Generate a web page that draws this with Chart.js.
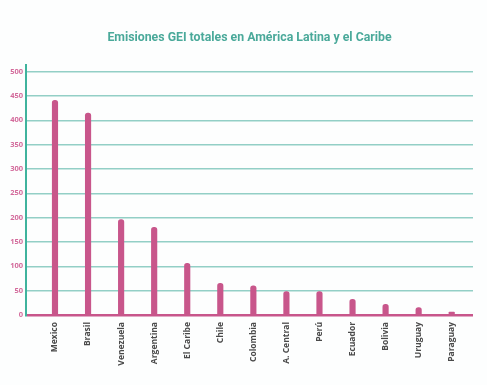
<!DOCTYPE html>
<html>
<head>
<meta charset="utf-8">
<script src="https://cdn.jsdelivr.net/npm/chart.js@4"></script>
<style>
  html, body { margin: 0; padding: 0; background: #fdfefe; }
  #wrap { width: 487px; height: 385px; }
</style>
</head>
<body>
<div id="wrap"><canvas id="c" width="487" height="385"></canvas></div>
<script>
const categories = ["Mexico", "Brasil", "Venezuela", "Argentina", "El Caribe", "Chile", "Colombia", "A. Central", "Perú", "Ecuador", "Bolivia", "Uruguay", "Paraguay"];
const emissions = [441, 415, 196, 180, 106, 65, 60, 48, 48, 32, 22, 15, 6];
const yTicks = [0, 50, 100, 150, 200, 250, 300, 350, 400, 450, 500];

const pink = "#c8568b";
const teal = "#3fb39d";
const gridTeal = "#93cfc6";

new Chart(document.getElementById("c"), {
  type: "bar",
  data: {
    datasets: [{
      data: emissions.map((v, i) => ({ x: i, y: v })),
      backgroundColor: pink,
      barThickness: 5.5,
      borderRadius: { topLeft: 3, topRight: 3, bottomLeft: 0, bottomRight: 0 },
      borderSkipped: "bottom"
    }]
  },
  options: {
    responsive: false,
    animation: false,
    layout: { padding: { top: 20, right: 14, bottom: 0, left: 0 } },
    plugins: {
      legend: { display: false },
      tooltip: { enabled: false },
      title: {
        display: true,
        fullSize: false,
        text: "Emisiones GEI totales en América Latina y el Caribe",
        color: "#4aa99a",
        font: { family: "Roboto", size: 12.3, weight: "bold" },
        padding: { top: 11, bottom: 19 }
      }
    },
    scales: {
      x: {
        type: "linear",
        offset: false,
        min: -0.877,
        max: 12.644,
        afterBuildTicks: s => { s.ticks = categories.map((c, i) => ({ value: i })); },
        afterFit: s => { s.height = 70; },
        grid: { display: false, drawTicks: false, offset: false },
        border: { display: false },
        ticks: {
          autoSkip: false,
          minRotation: 90,
          maxRotation: 90,
          padding: 7,
          color: "#4a4a4a",
          font: { family: "Open Sans", size: 8.5, weight: "bold" },
          callback: v => categories[v] ?? ""
        }
      },
      y: {
        min: 0,
        max: 514,
        afterBuildTicks: s => { s.ticks = yTicks.map(v => ({ value: v })); },
        afterFit: s => { s.width = 26; },
        grid: {
          drawTicks: false,
          color: ctx => ctx.tick && ctx.tick.value === 0 ? pink : gridTeal,
          lineWidth: ctx => ctx.tick && ctx.tick.value === 0 ? 2.5 : 1.5
        },
        border: { display: true, color: teal, width: 2 },
        ticks: {
          padding: 3,
          color: "#d36a9b",
          font: { family: "Open Sans", size: 7.5, weight: "bold" }
        }
      }
    }
  }
});
</script>
</body>
</html>
